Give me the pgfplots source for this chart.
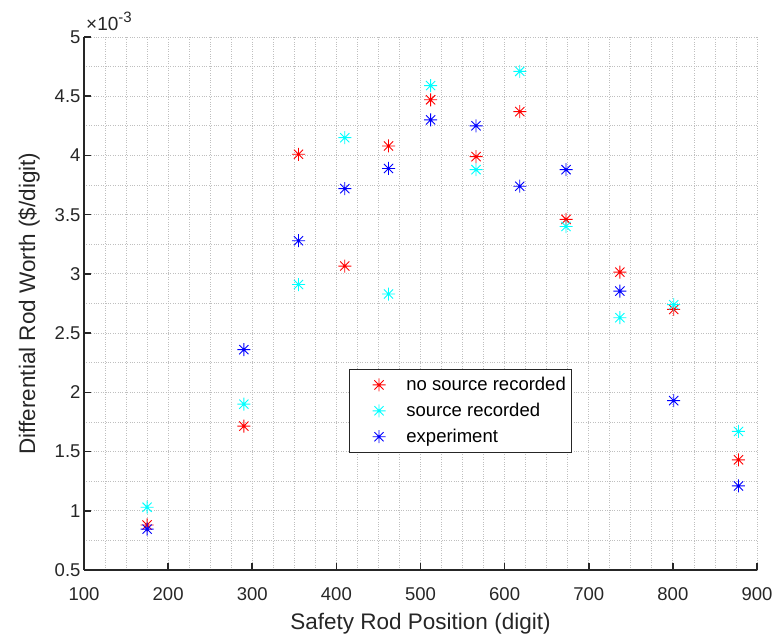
\documentclass[border=0pt]{standalone}
\usepackage{pgfplots}
\pgfplotsset{compat=1.18}
\usepackage{fontspec}
\setmainfont{Liberation Sans}
\definecolor{mred}{rgb}{1,0,0}
\definecolor{mcyan}{rgb}{0,1,1}
\definecolor{mblue}{rgb}{0,0,1}
\definecolor{txt}{rgb}{0.15,0.15,0.15}
\pgfdeclareplotmark{mstar}{%
 \pgfpathmoveto{\pgfqpoint{0pt}{\pgfplotmarksize}}\pgfpathlineto{\pgfqpoint{0pt}{-\pgfplotmarksize}}%
 \pgfpathmoveto{\pgfqpoint{\pgfplotmarksize}{0pt}}\pgfpathlineto{\pgfqpoint{-\pgfplotmarksize}{0pt}}%
 \pgfpathmoveto{\pgfqpoint{.7071\pgfplotmarksize}{.7071\pgfplotmarksize}}\pgfpathlineto{\pgfqpoint{-.7071\pgfplotmarksize}{-.7071\pgfplotmarksize}}%
 \pgfpathmoveto{\pgfqpoint{.7071\pgfplotmarksize}{-.7071\pgfplotmarksize}}\pgfpathlineto{\pgfqpoint{-.7071\pgfplotmarksize}{.7071\pgfplotmarksize}}%
 \pgfusepathqstroke}
\begin{document}
\begin{tikzpicture}
\begin{axis}[
  name=ax,
  scale only axis,
  width=673pt, height=533pt,
  xmin=100, xmax=900, ymin=0.5, ymax=5,
  xtick={100,200,...,900},
  ytick={0.5,1,...,5},
  minor x tick num=3, minor y tick num=1,
  grid=both,
  major grid style={dotted, line width=0.8pt, color=black!25},
  minor grid style={dotted, line width=0.8pt, color=black!25},
  axis lines=left,
  axis line style={-, line width=1.5pt, color=txt},
  tick align=inside,
  major tick length=7pt,
  minor tick length=0pt,
  tick style={line width=1.5pt, color=txt},
  ticklabel style={font=\fontsize{18.5}{22}\selectfont, color=txt},
  xticklabel style={yshift=-14pt},
  yticklabel style={xshift=0pt},
  /pgf/number format/assume math mode=true,
  yticklabel style={/pgf/number format/fixed},
  xlabel={Safety Rod Position (digit)},
  ylabel={Differential Rod Worth (\$/digit)},
  label style={font=\fontsize{22.5}{26}\selectfont, color=txt},
  xlabel style={yshift=-6pt},
  ylabel style={yshift=8pt},
  legend style={at={(0.394,0.377)}, anchor=north west, draw=txt, line width=0.8pt,
    font=\fontsize{18.5}{22}\selectfont, row sep=7pt, inner xsep=4pt, inner ysep=6pt,
    legend cell align=left},
  legend image code/.code={\path (0pt,0pt) (50pt,0pt); \draw[#1] plot coordinates {(25pt,0pt)};},
]
\addplot[only marks, mark=mstar, mark size=6.5pt, color=mred, line width=0.9pt] coordinates {
(175,0.88) (290,1.715) (355,4.01) (410,3.066) (462,4.08) (512,4.47) (566,3.99) (618,4.37) (673,3.46) (737,3.015) (801,2.70) (878,1.43)};
\addlegendentry{no source recorded}
\addplot[only marks, mark=mstar, mark size=6.5pt, color=mcyan, line width=0.9pt] coordinates {
(175,1.03) (290,1.90) (355,2.91) (410,4.15) (462,2.83) (512,4.59) (566,3.88) (618,4.71) (673,3.40) (737,2.63) (801,2.74) (878,1.67)};
\addlegendentry{source recorded}
\addplot[only marks, mark=mstar, mark size=6.5pt, color=mblue, line width=0.9pt] coordinates {
(175,0.845) (290,2.36) (355,3.28) (410,3.72) (462,3.89) (512,4.30) (566,4.25) (618,3.74) (673,3.88) (737,2.855) (801,1.93) (878,1.21)};
\addlegendentry{experiment}
\end{axis}
\node[anchor=base west, inner sep=0pt, text=txt] at ([xshift=2pt,yshift=6pt]ax.north west) {\fontsize{19}{22}\selectfont ×10\raisebox{0.45em}{\fontsize{15}{17}\selectfont -3}};
\pgfresetboundingbox
\path ([xshift=-84pt,yshift=-67pt]ax.south west) rectangle ++(777pt,637pt);
\end{tikzpicture}
\end{document}
